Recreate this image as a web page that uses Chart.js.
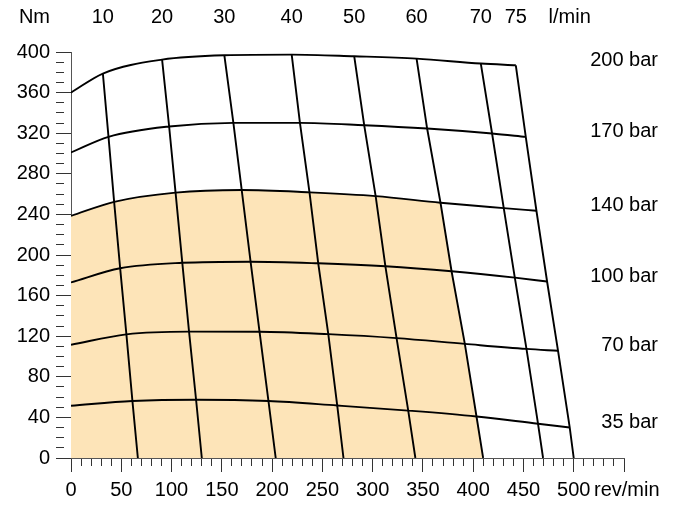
<!DOCTYPE html>
<html>
<head>
<meta charset="utf-8">
<script src="https://cdn.jsdelivr.net/npm/chart.js@4.4.1/dist/chart.umd.min.js"></script>
<style>
  html, body { margin: 0; padding: 0; background: #fff; }
</style>
</head>
<body>
<canvas id="myChart" width="675" height="508"></canvas>
<script>
// pressure curves (bar) and flow lines (l/min)
const pressures = [200, 170, 140, 100, 70, 35];
const flows = [10, 20, 30, 40, 50, 60, 70, 75];

// torque where each pressure curve starts (0 rev/min)
const startTorque = [360, 301, 238.5, 173, 111.5, 51.5];

// speed (rev/min) at each crossing, rows = pressure, cols = flow
const speedGrid = [
  [31.7, 90.6, 152.5, 219.5, 281.7, 343.7, 407.6, 442.4],
  [37.3, 97.6, 161.5, 227.7, 291.6, 354.2, 418.8, 452.3],
  [42.9, 104.0, 169.8, 237.2, 303.0, 367.5, 430.4, 462.9],
  [48.9, 110.7, 178.6, 245.9, 312.7, 378.5, 441.4, 473.5],
  [55.1, 117.4, 187.5, 255.9, 323.8, 391.7, 453.0, 484.4],
  [61.1, 124.4, 196.4, 264.8, 335.4, 403.3, 464.5, 496.0]
];
// torque (Nm) at each crossing
const torqueGrid = [
  [378.8, 392.5, 396.8, 397.4, 395.8, 393.5, 388.6, 386.9],
  [316.4, 326.6, 330.2, 330.2, 327.9, 324.6, 319.7, 316.4],
  [252.4, 261.5, 264.0, 261.7, 258.0, 251.5, 246.2, 243.6],
  [186.9, 192.3, 193.4, 191.8, 188.9, 184.0, 177.7, 173.9],
  [121.8, 124.5, 124.4, 122.0, 118.1, 112.4, 107.5, 105.6],
  [56.1, 57.4, 56.1, 51.7, 46.7, 40.9, 33.7, 30.1]
];
// speed where each flow line reaches 0 Nm
const zeroSpeed = [66.5, 130.1, 203.6, 271.0, 342.5, 409.9, 469.5, 500.0];

// shaded working area: below 140 bar, left of 60 l/min
const areaPressure = 2;
const areaFlow = 5;

const fillColor = 'rgb(253,228,184)';
const font = '"Liberation Sans", Arial, Helvetica, sans-serif';

let datasets = [];

pressures.forEach(function(p, i) {
  let pts = [{x: 0, y: startTorque[i]}];
  flows.forEach(function(f, j) {
    pts.push({x: speedGrid[i][j], y: torqueGrid[i][j]});
  });
  datasets.push({
    label: p + ' bar',
    data: pts,
    showLine: true,
    borderColor: '#000',
    borderWidth: 1.9,
    pointRadius: 0,
    cubicInterpolationMode: 'monotone',
    fill: false,
    order: 1
  });
});

flows.forEach(function(f, j) {
  let pts = [];
  pressures.forEach(function(p, i) {
    pts.push({x: speedGrid[i][j], y: torqueGrid[i][j]});
  });
  pts.push({x: zeroSpeed[j], y: 0});
  datasets.push({
    label: f + ' l/min',
    data: pts,
    showLine: true,
    borderColor: '#000',
    borderWidth: 1.9,
    pointRadius: 0,
    tension: 0,
    fill: false,
    order: 1
  });
});

// fill part 1: under the 140 bar curve up to the 60 l/min line
let areaTop = [{x: 0, y: startTorque[areaPressure]}];
for (let j = 0; j <= areaFlow; j++) {
  areaTop.push({x: speedGrid[areaPressure][j], y: torqueGrid[areaPressure][j]});
}
// fill part 2: under the 60 l/min line, starting one cell left so the two fills overlap
let areaSide = [{x: speedGrid[areaPressure][areaFlow - 1], y: torqueGrid[areaPressure][areaFlow - 1]}];
for (let i = areaPressure; i < pressures.length; i++) {
  areaSide.push({x: speedGrid[i][areaFlow], y: torqueGrid[i][areaFlow]});
}
areaSide.push({x: zeroSpeed[areaFlow], y: 0});

datasets.push({
  data: areaTop, showLine: true, pointRadius: 0, borderWidth: 0,
  borderColor: 'transparent', backgroundColor: fillColor,
  cubicInterpolationMode: 'monotone', fill: 'origin', order: 5
});
datasets.push({
  data: areaSide, showLine: true, pointRadius: 0, borderWidth: 0,
  borderColor: 'transparent', backgroundColor: fillColor,
  tension: 0, fill: 'origin', order: 5
});

const labelPlugin = {
  id: 'curveLabels',
  afterDraw(chart) {
    const ctx = chart.ctx;
    const xs = chart.scales.x, ys = chart.scales.y;
    ctx.save();
    ctx.font = '20px ' + font;
    ctx.fillStyle = '#000';
    ctx.textBaseline = 'middle';
    ctx.textAlign = 'center';
    flows.forEach(function(f, j) {
      ctx.fillText(String(f), xs.getPixelForValue(speedGrid[0][j]), 17);
    });
    ctx.fillText('l/min', xs.getPixelForValue(496), 17);
    ctx.textAlign = 'right';
    ctx.fillText('Nm', chart.chartArea.left - 21, 17);
    pressures.forEach(function(p, i) {
      ctx.fillText(p + ' bar', chart.width - 17, ys.getPixelForValue(torqueGrid[i][flows.length - 1]) - 5);
    });
    ctx.restore();
  }
};

new Chart('myChart', {
  type: 'scatter',
  data: { datasets: datasets },
  options: {
    responsive: false,
    animation: false,
    layout: { padding: { top: 52, right: 51, left: 0, bottom: 0 } },
    plugins: { legend: { display: false }, tooltip: { enabled: false } },
    scales: {
      x: {
        type: 'linear', min: 0, max: 550,
        afterFit: function(s) { s.height = 50; },
        border: { color: '#555', width: 1 },
        grid: {
          drawOnChartArea: false, color: '#333', tickLength: 14,
          tickBorderDash: function(c) { return c.tick && c.tick.value % 50 !== 0 ? [7, 100] : []; }
        },
        ticks: {
          stepSize: 10, autoSkip: false, maxRotation: 0, minRotation: 0, padding: 6,
          color: '#000', font: { size: 20, family: font },
          callback: function(v) { return v === 550 ? ' rev/min' : (v % 50 === 0 ? v : ''); }
        }
      },
      y: {
        min: 0, max: 400,
        afterFit: function(s) { s.width = 71; },
        border: { color: '#555', width: 1 },
        grid: {
          drawOnChartArea: false, color: '#333', tickLength: 15,
          tickBorderDash: function(c) { return c.tick && c.tick.value % 40 !== 0 ? [8, 100] : []; }
        },
        ticks: {
          stepSize: 10, autoSkip: false, padding: 6,
          color: '#000', font: { size: 20, family: font },
          callback: function(v) { return v % 40 === 0 ? v : ''; }
        }
      }
    }
  },
  plugins: [labelPlugin]
});
</script>
</body>
</html>
